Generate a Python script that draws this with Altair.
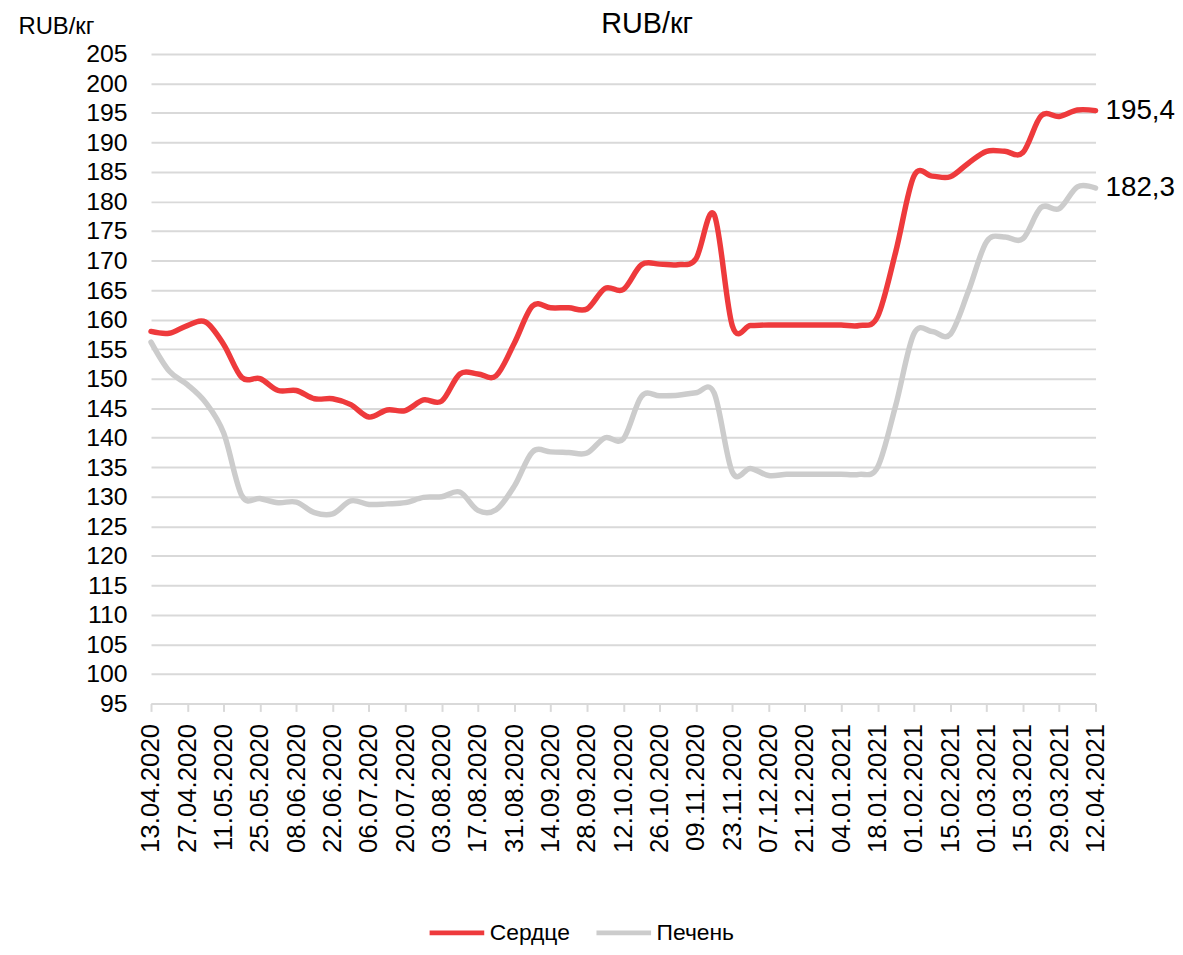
import altair as alt
import pandas as pd

dates = [
    "13.04.2020", "20.04.2020", "27.04.2020", "04.05.2020", "11.05.2020", "18.05.2020",
    "25.05.2020", "01.06.2020", "08.06.2020", "15.06.2020", "22.06.2020", "29.06.2020",
    "06.07.2020", "13.07.2020", "20.07.2020", "27.07.2020", "03.08.2020", "10.08.2020",
    "17.08.2020", "24.08.2020", "31.08.2020", "07.09.2020", "14.09.2020", "21.09.2020",
    "28.09.2020", "05.10.2020", "12.10.2020", "19.10.2020", "26.10.2020", "02.11.2020",
    "09.11.2020", "16.11.2020", "23.11.2020", "30.11.2020", "07.12.2020", "14.12.2020",
    "21.12.2020", "28.12.2020", "04.01.2021", "11.01.2021", "18.01.2021", "25.01.2021",
    "01.02.2021", "08.02.2021", "15.02.2021", "22.02.2021", "01.03.2021", "08.03.2021",
    "15.03.2021", "22.03.2021", "29.03.2021", "05.04.2021", "12.04.2021",
]

heart = [
    158.0, 157.7, 159.0, 159.6, 155.8, 150.2, 150.0, 148.0, 148.0, 146.6,
    146.6, 145.6, 143.5, 144.7, 144.6, 146.4, 146.2, 150.8, 150.8, 150.5,
    156.0, 162.3, 162.0, 162.0, 161.8, 165.3, 165.1, 169.3, 169.4, 169.3,
    170.3, 177.8, 159.0, 159.0, 159.1, 159.1, 159.1, 159.1, 159.1, 159.0,
    160.5, 171.5, 184.3, 184.3, 184.2, 186.5, 188.5, 188.5, 188.3, 194.5,
    194.4, 195.5, 195.4,
]

liver = [
    156.2, 151.3, 149.0, 146.0, 140.8, 130.2, 129.7, 129.0, 129.1, 127.3,
    127.1, 129.3, 128.7, 128.8, 129.0, 129.9, 130.0, 130.8, 127.7, 127.8,
    131.8, 137.6, 137.6, 137.5, 137.4, 140.0, 139.8, 147.0, 147.1, 147.2,
    147.6, 147.6, 134.2, 134.8, 133.6, 133.8, 133.8, 133.8, 133.8, 133.8,
    135.0, 145.5, 157.6, 158.0, 157.5, 164.8, 173.2, 174.0, 173.7, 179.0,
    178.8, 182.5, 182.3,
]

series_names = ["Сердце", "Печень"]
series_colors = ["#EE3A3C", "#CCCCCC"]
y_ticks = [95, 100, 105, 110, 115, 120, 125, 130, 135, 140, 145, 150,
           155, 160, 165, 170, 175, 180, 185, 190, 195, 200, 205]

FONT = "Liberation Sans"

n = len(dates)
week = list(range(n))
x_ticks = week[::2]

df = pd.DataFrame({
    "week": week * 2,
    "date": dates * 2,
    "value": liver + heart,
    "series": [series_names[1]] * n + [series_names[0]] * n,
})

last = pd.DataFrame({
    "week": [week[-1], week[-1]],
    "value": [heart[-1], liver[-1]],
    "label": [f"{heart[-1]:.1f}".replace(".", ","), f"{liver[-1]:.1f}".replace(".", ",")],
})

date_array = "[" + ",".join(f"'{d}'" for d in dates) + "]"

x_scale = alt.Scale(domain=[week[0], week[-1]], nice=False, zero=False)
y_scale = alt.Scale(domain=[95, 205], nice=False, zero=False)

x_enc = alt.X(
    "week:Q",
    scale=x_scale,
    axis=alt.Axis(
        values=x_ticks,
        labelExpr=f"{date_array}[datum.value]",
        labelAngle=-90,
        title=None,
        grid=False,
        domainColor="#D9D9D9",
        domainWidth=2,
        tickColor="#D9D9D9",
        tickWidth=2,
        tickSize=8,
        labelPadding=12,
        labelFontSize=26,
        labelFont=FONT,
        labelColor="#000000",
        labelOverlap=False,
        labelFlush=False,
        labelBound=False,
    ),
)

y_enc = alt.Y(
    "value:Q",
    scale=y_scale,
    axis=alt.Axis(
        values=y_ticks,
        title="RUB/кг",
        titleAngle=0,
        titleX=-134,
        titleY=-28,
        titleAlign="left",
        titleBaseline="middle",
        titleFont=FONT,
        titleFontSize=24,
        titleFontWeight="normal",
        titleColor="#000000",
        domain=False,
        ticks=False,
        labelPadding=24,
        labelFontSize=25,
        labelFont=FONT,
        labelColor="#000000",
        labelOverlap=False,
        labelFlush=False,
        labelBound=False,
        gridColor="#D9D9D9",
        gridWidth=2,
    ),
)

lines = alt.Chart(df).mark_line(
    interpolate="cardinal", strokeWidth=5.5, strokeCap="round", strokeJoin="round"
).encode(
    x=x_enc,
    y=y_enc,
    color=alt.Color(
        "series:N",
        scale=alt.Scale(domain=series_names, range=series_colors),
        legend=alt.Legend(
            orient="none",
            legendX=278,
            legendY=855,
            direction="horizontal",
            title=None,
            symbolType="stroke",
            symbolSize=3025,
            symbolStrokeWidth=5,
            labelFontSize=23,
            labelFont=FONT,
            labelColor="#000000",
            labelOffset=3,
            columnPadding=16,
        ),
    ),
)

labels = alt.Chart(last).mark_text(
    align="left", baseline="middle", dx=10, fontSize=28, font=FONT, color="#000000"
).encode(
    x=x_enc,
    y=y_enc,
    text="label:N",
)

chart = alt.layer(lines, labels).properties(
    width=951,
    height=654,
    autosize=alt.AutoSizeParams(type="none"),
    padding={"left": 144, "top": 43, "right": 80, "bottom": 240},
    title=alt.TitleParams(
        "RUB/кг", font=FONT, fontSize=29, fontWeight="normal", color="#000000",
        anchor="middle", dx=24, dy=37, offset=12,
    ),
).configure(background="white").configure_view(strokeWidth=0)

chart.save("out.html", embed_options={"renderer": "svg", "actions": False})
